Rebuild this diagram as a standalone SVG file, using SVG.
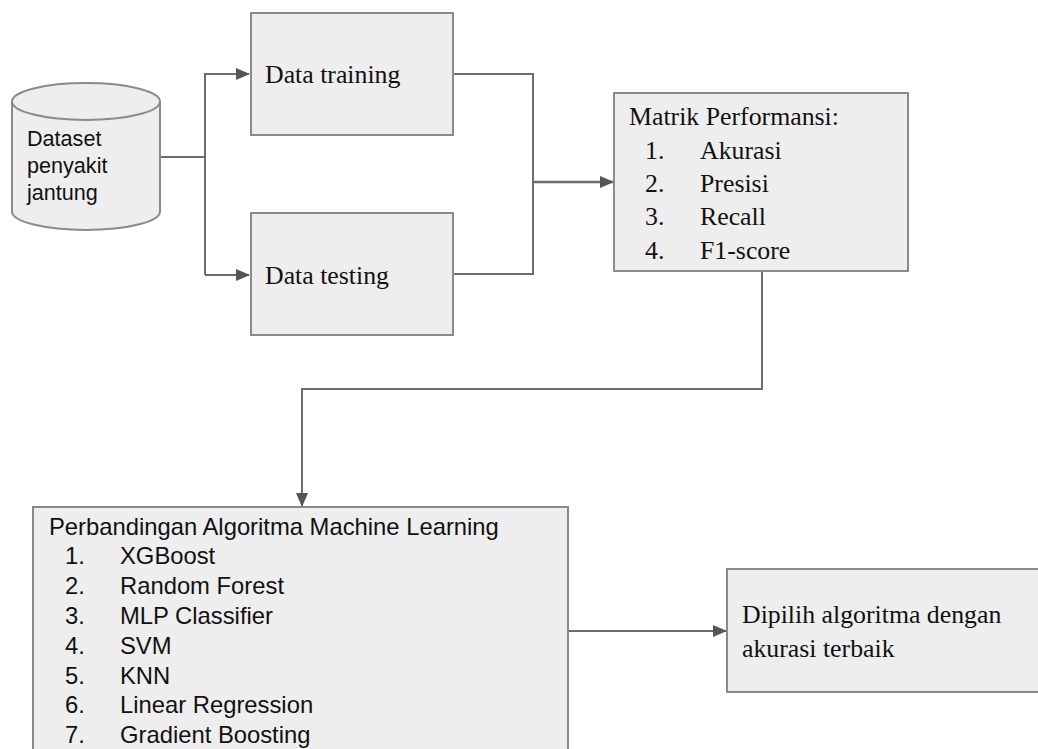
<svg xmlns="http://www.w3.org/2000/svg" width="1038" height="749" viewBox="0 0 1038 749">
<style>
.box{fill:#eeeeee;stroke:#8a8a8a;stroke-width:2}
.serif{font-family:"Liberation Serif","Times New Roman",serif;font-size:25.8px;fill:#111}
.sans{font-family:"Liberation Sans",Arial,sans-serif;font-size:23.8px;fill:#111}
.cyl{font-family:"Liberation Sans",Arial,sans-serif;font-size:21.6px;fill:#111}
.conn{fill:none;stroke:#6e6e6e;stroke-width:2}
</style>
<defs>
<marker id="arr" markerWidth="14" markerHeight="12" refX="13" refY="6" orient="auto" markerUnits="userSpaceOnUse">
<path d="M0,0 L14,6 L0,12 Z" fill="#555"/>
</marker>
</defs>
<rect width="1038" height="749" fill="#ffffff"/>
<g id="connectors">
<path class="conn" d="M160,157 H205"/>
<path class="conn" d="M205,275 V74 H249" marker-end="url(#arr)"/>
<path class="conn" d="M205,275 H249" marker-end="url(#arr)"/>
<path class="conn" d="M453,74 H533 V274 H453"/>
<path class="conn" style="stroke-width:2.5" d="M533,182 H613" marker-end="url(#arr)"/>
<path class="conn" d="M762,271 V389 H302 V506" marker-end="url(#arr)"/>
<path class="conn" d="M568,631 H726" marker-end="url(#arr)"/>
</g>
<g id="dataset">
<path class="box" d="M12,101.5 V211.5 A74,18.5 0 0 0 160,211.5 V101.5"/>
<ellipse class="box" cx="86" cy="101.5" rx="74" ry="18.5"/>
<text class="cyl" x="27" y="146">Dataset</text>
<text class="cyl" x="27" y="173">penyakit</text>
<text class="cyl" x="27" y="200">jantung</text>
</g>
<g id="training">
<rect class="box" x="251" y="13" width="202" height="122"/>
<text class="serif" x="265" y="83">Data training</text>
</g>
<g id="testing">
<rect class="box" x="251" y="213" width="202" height="122"/>
<text class="serif" x="265" y="284">Data testing</text>
</g>
<g id="matrik">
<rect class="box" x="614" y="93" width="294" height="178"/>
<text class="serif" x="629" y="125">Matrik Performansi:</text>
<text class="serif" x="645" y="159">1.</text><text class="serif" x="700" y="159">Akurasi</text>
<text class="serif" x="645" y="192">2.</text><text class="serif" x="700" y="192">Presisi</text>
<text class="serif" x="645" y="225">3.</text><text class="serif" x="700" y="225">Recall</text>
<text class="serif" x="645" y="259">4.</text><text class="serif" x="700" y="259">F1-score</text>
</g>
<g id="perbandingan">
<rect class="box" x="33" y="507" width="535" height="260"/>
<text class="sans" x="49" y="535">Perbandingan Algoritma Machine Learning</text>
<text class="sans" x="65" y="564">1.</text><text class="sans" x="120" y="564">XGBoost</text>
<text class="sans" x="65" y="594">2.</text><text class="sans" x="120" y="594">Random Forest</text>
<text class="sans" x="65" y="624">3.</text><text class="sans" x="120" y="624">MLP Classifier</text>
<text class="sans" x="65" y="654">4.</text><text class="sans" x="120" y="654">SVM</text>
<text class="sans" x="65" y="684">5.</text><text class="sans" x="120" y="684">KNN</text>
<text class="sans" x="65" y="713">6.</text><text class="sans" x="120" y="713">Linear Regression</text>
<text class="sans" x="65" y="743">7.</text><text class="sans" x="120" y="743">Gradient Boosting</text>
</g>
<g id="terbaik">
<rect class="box" x="727" y="569" width="330" height="123"/>
<text class="serif" x="742" y="623">Dipilih algoritma dengan</text>
<text class="serif" x="742" y="657">akurasi terbaik</text>
</g>
</svg>
